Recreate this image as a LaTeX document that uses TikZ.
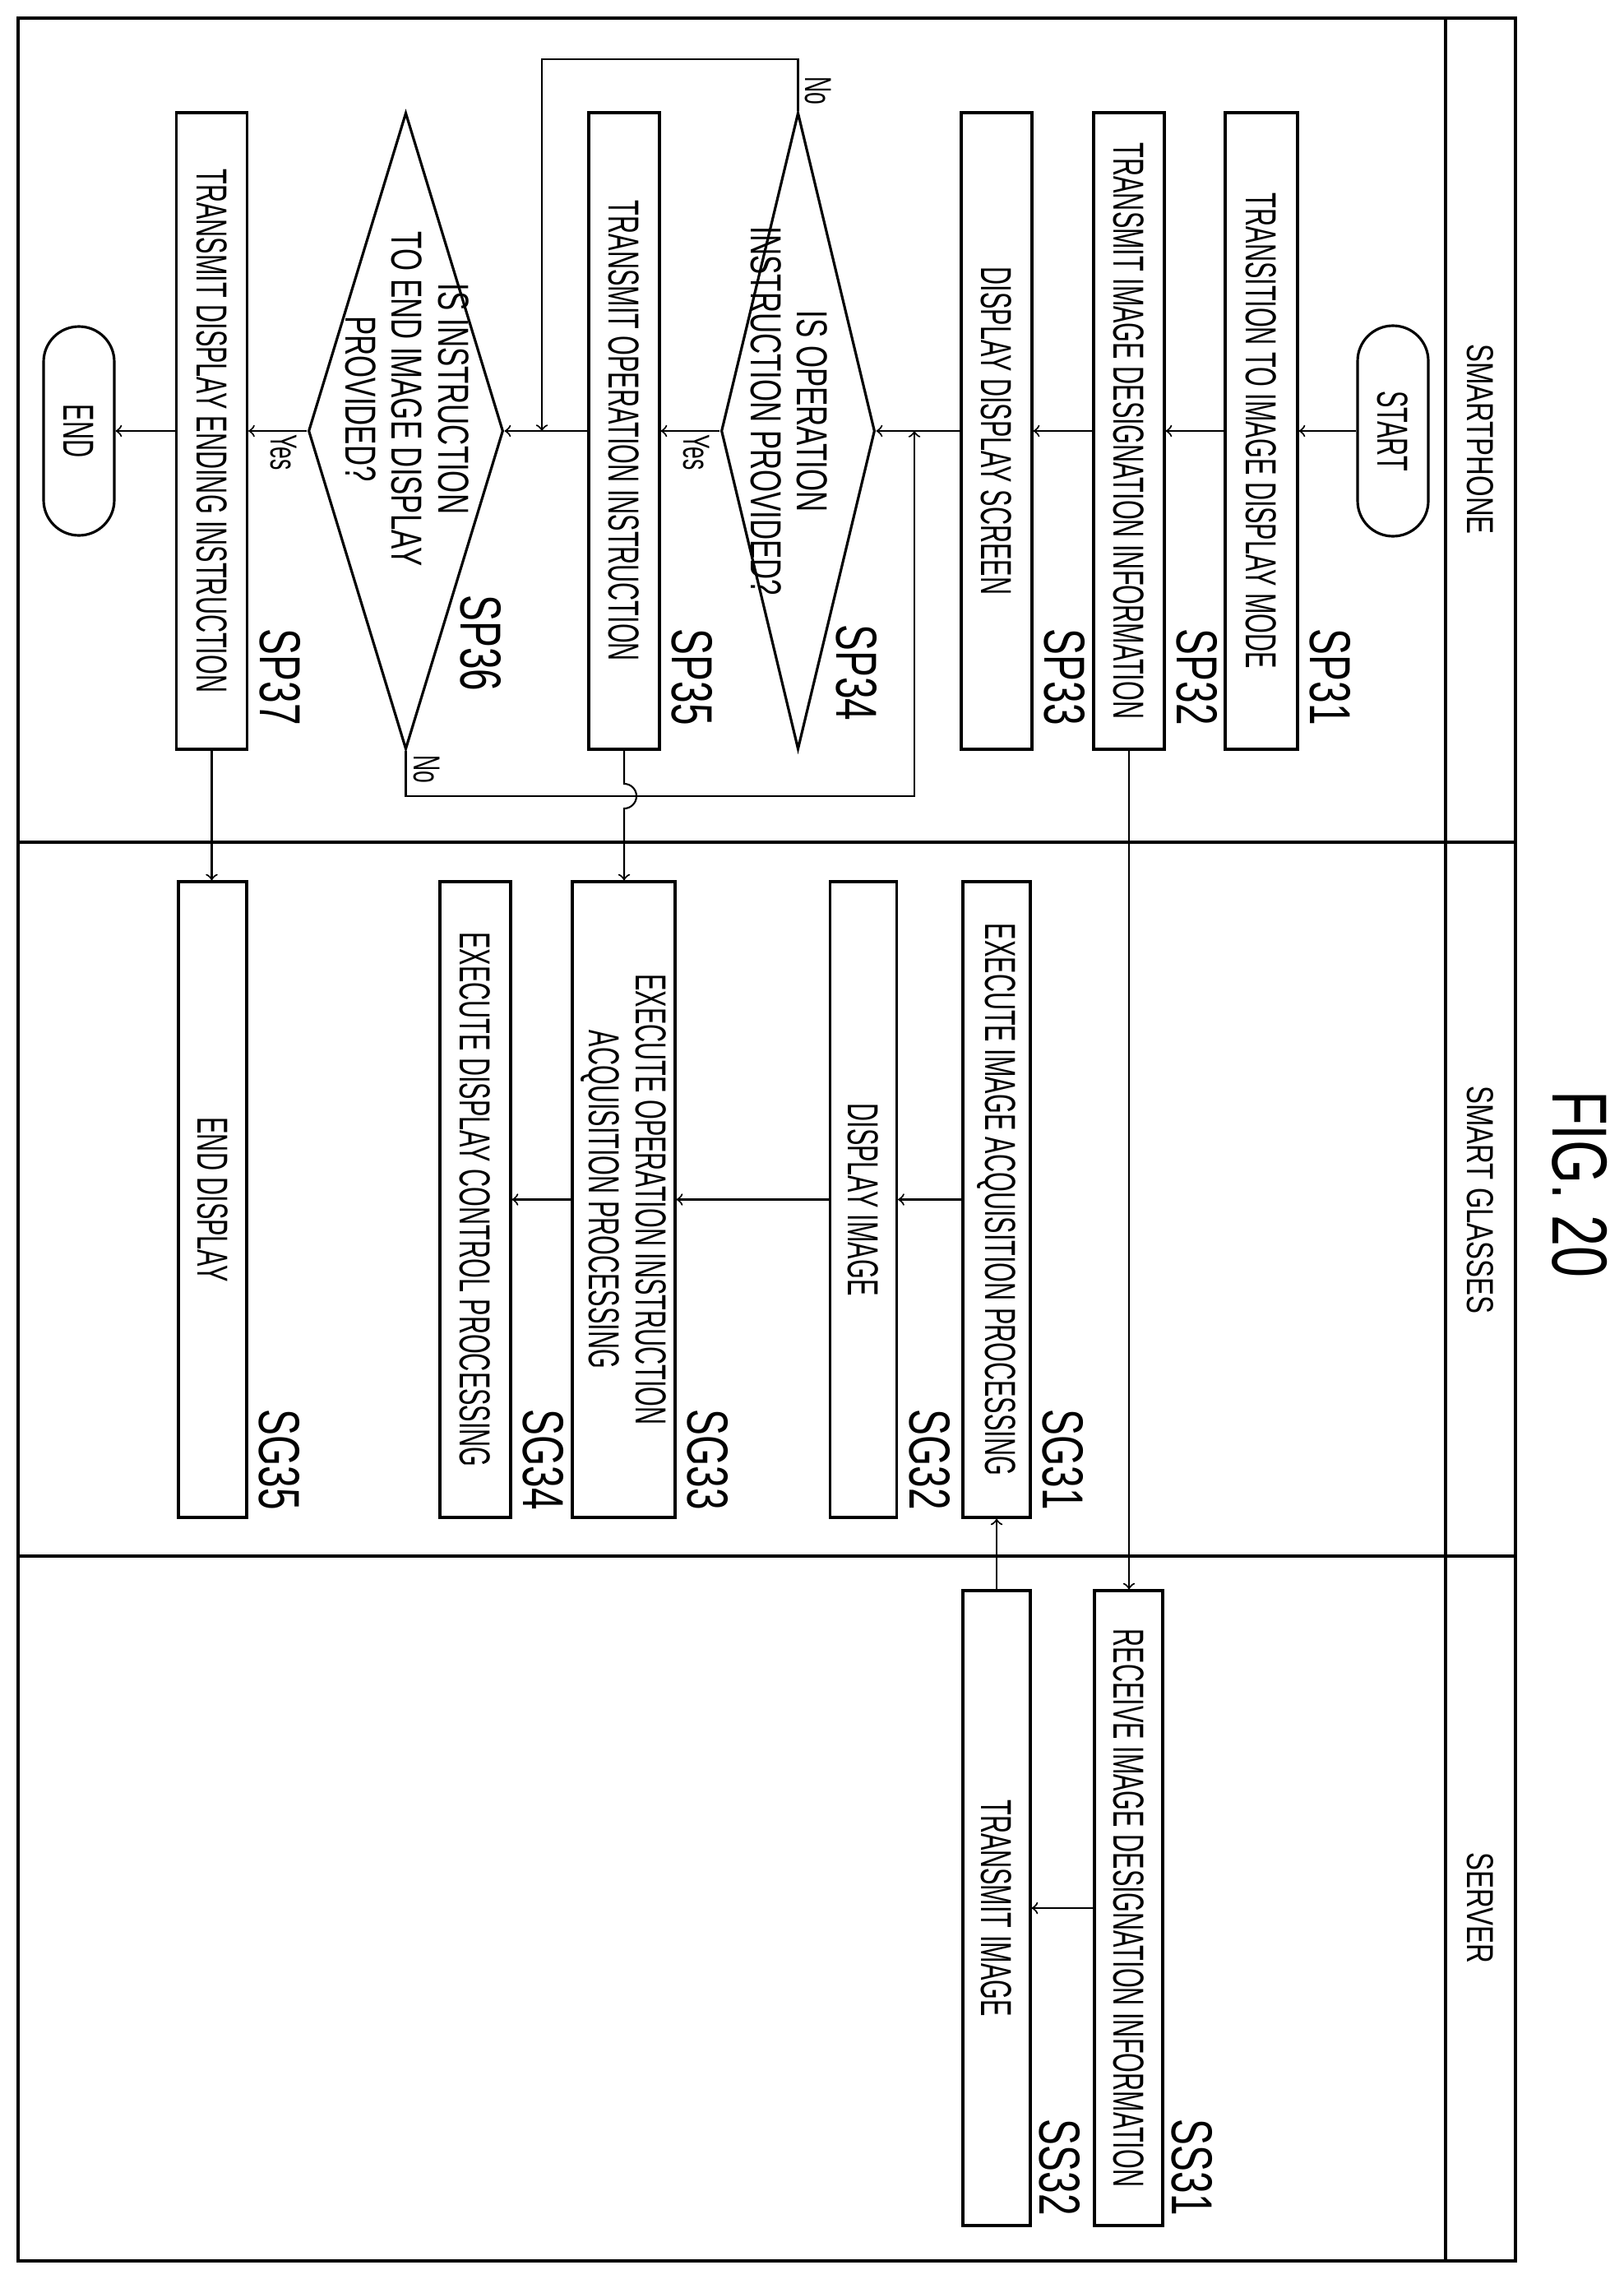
\documentclass[tikz,border=0pt]{standalone}
\usepackage{fontspec}
\setmainfont{Liberation Sans}
\newfontfamily\boxfont{Liberation Sans}[FakeStretch=0.58]
\newfontfamily\diafont{Liberation Sans}[FakeStretch=0.66]
\newfontfamily\stepfont{Liberation Sans}[FakeStretch=0.68]
\newfontfamily\headfont{Liberation Sans}[FakeStretch=0.72]
\usetikzlibrary{shapes.geometric,calc}

\begin{document}
\begin{tikzpicture}[
    rotate=-90, transform shape,
    box/.style={draw, line width=0.9pt, minimum width=7.74cm, minimum height=0.86cm, inner sep=0pt, align=center,
      font=\boxfont\fontsize{15}{16}\selectfont},
    dia/.style={shape=diamond, draw, line width=0.9pt, minimum width=7.74cm, inner sep=0pt},
    diatxt/.style={inner sep=0pt, align=center, font=\diafont\fontsize{15}{16}\selectfont},
    term/.style={draw, line width=0.9pt, rounded corners=0.43cm, minimum width=2.56cm, minimum height=0.86cm,
      inner sep=0pt, font=\boxfont\fontsize{15}{16}\selectfont},
    steplbl/.style={inner sep=0pt, font=\stepfont\fontsize{20}{20}\selectfont},
    head/.style={font=\headfont\fontsize{13}{13}\selectfont},
    yn/.style={inner sep=1pt, font=\boxfont\fontsize{13}{13}\selectfont},
    conn/.style={line width=0.6pt},
    arr/.style={conn,->}]
    \useasboundingbox (0,0) rectangle (27.71,19.75);

    % frame and lanes
    \draw[line width=1.1pt] (0.22,0.22) rectangle (27.49,18.43);
    \draw[line width=1.1pt] (0.22,17.58) -- (27.49,17.58);
    \draw[line width=1.1pt] (10.24,0.22) -- (10.24,18.43);
    \draw[line width=1.1pt] (18.92,0.22) -- (18.92,18.43);
    \node[head] (hsp) at (5.34,18.0) {SMARTPHONE};
    \node[head] (hsg) at (14.59,18.0) {SMART GLASSES};
    \node[head] (hss) at (23.2,18.0) {SERVER};
    \node[font=\headfont\fontsize{27}{27}\selectfont] (fig) at (14.4,19.21) {FIG. 20};

    % smartphone
    \node[term] (start) at (5.24,16.94) {START};
    \node[box, minimum height=0.88cm] (sp31) at (5.24,15.34) {TRANSITION TO IMAGE DISPLAY MODE};
    \node[box] (sp32) at (5.24,13.73) {TRANSMIT IMAGE DESIGNATION INFORMATION};
    \node[box] (sp33) at (5.24,12.12) {DISPLAY DISPLAY SCREEN};
    \node[dia, minimum height=1.87cm] (sp34) at (5.24,9.705) {};
    \node[diatxt] (t34) at (5.0,9.6) {IS OPERATION\\INSTRUCTION PROVIDED?};
    \node[box] (sp35) at (5.24,7.59) {TRANSMIT OPERATION INSTRUCTION};
    \node[dia, minimum height=2.37cm] (sp36) at (5.24,4.935) {};
    \node[diatxt] (t36) at (4.85,4.95) {IS INSTRUCTION\\TO END IMAGE DISPLAY\\PROVIDED?};
    \node[box] (sp37) at (5.24,2.575) {TRANSMIT DISPLAY ENDING INSTRUCTION};
    \node[term, minimum width=2.54cm] (end) at (5.24,0.96) {END};

    \node[steplbl, anchor=south east] (l31) at ($(sp31.north east)+(-0.3,0.13)$) {SP31};
    \node[steplbl, anchor=south east] (l32) at ($(sp32.north east)+(-0.3,0.13)$) {SP32};
    \node[steplbl, anchor=south east] (l33) at ($(sp33.north east)+(-0.3,0.13)$) {SP33};
    \node[steplbl, anchor=east] (l34) at (8.77,10.42) {SP34};
    \node[steplbl, anchor=south east] (l35) at ($(sp35.north east)+(-0.3,0.13)$) {SP35};
    \node[steplbl, anchor=east] (l36) at (8.41,5.85) {SP36};
    \node[steplbl, anchor=south east] (l37) at ($(sp37.north east)+(-0.3,0.13)$) {SP37};

    % smart glasses
    \node[box, minimum width=7.73cm, minimum height=0.82cm] (sg31) at (14.585,12.12) {EXECUTE IMAGE ACQUISITION PROCESSING};
    \node[box, minimum width=7.73cm, minimum height=0.81cm] (sg32) at (14.585,10.5) {DISPLAY IMAGE};
    \node[box, minimum width=7.73cm, minimum height=1.25cm] (sg33) at (14.585,7.585) {EXECUTE OPERATION INSTRUCTION\\ACQUISITION PROCESSING};
    \node[box, minimum width=7.73cm] (sg34) at (14.585,5.78) {EXECUTE DISPLAY CONTROL PROCESSING};
    \node[box, minimum width=7.73cm, minimum height=0.83cm] (sg35) at (14.585,2.585) {END DISPLAY};
    \foreach \n in {31,32,33,34,35}
      \node[steplbl, anchor=south east] (lg\n) at ($(sg\n.north east)+(-0.1,0.13)$) {SG\n};

    % server
    \node[box, minimum width=7.72cm, minimum height=0.83cm] (ss31) at (23.2,13.725) {RECEIVE IMAGE DESIGNATION INFORMATION};
    \node[box, minimum width=7.72cm, minimum height=0.82cm] (ss32) at (23.2,12.12) {TRANSMIT IMAGE};
    \foreach \n in {31,32}
      \node[steplbl, anchor=south east] (ls\n) at ($(ss\n.north east)+(-0.13,0.09)$) {SS\n};

    % flow
    \draw[arr] (start) -- (sp31);
    \draw[arr] (sp31) -- (sp32);
    \draw[arr] (sp32) -- (sp33);
    \draw[arr] (sp33) -- (sp34.north);
    \draw[arr] (sp34.south) -- node[yn, pos=0.4, right] (y34) {Yes} (sp35);
    \draw[arr] (sp35) -- (sp36.north);
    \draw[arr] (sp36.south) -- node[yn, pos=0.4, right] (y36) {Yes} (sp37);
    \draw[arr] (sp37) -- (end);
    \coordinate (n34a) at (0.72,9.705);
    \coordinate (n34b) at (0.72,6.59);
    \draw[arr] (sp34.west) -- (n34a) -- (n34b) -- (5.24,6.59);
    \node[yn, anchor=south] (no34) at (1.1,9.75) {No};
    \coordinate (n36a) at (9.68,4.935);
    \coordinate (n36b) at (9.68,11.12);
    \draw[arr] (sp36.east) -- (n36a) -- (n36b) -- (5.24,11.12);
    \node[yn, anchor=south] (no36) at (9.35,4.99) {No};
    \draw[arr] (sp35.east) -- (9.53,7.59) arc (180:0:0.15) -- (sg33.west |- sp35.east);
    \draw[arr] (sp32.east) -- (ss31.west |- sp32.east);
    \draw[arr] (sp37.east) -- (sg35.west |- sp37.east);
    \draw[arr] (sg31) -- (sg32);
    \draw[arr] (sg32) -- (sg33);
    \draw[arr] (sg33) -- (sg34);
    \draw[arr] (ss31) -- (ss32);
    \draw[arr] (ss32.west) -- (sg31.east);
  \end{tikzpicture}
\end{document}
